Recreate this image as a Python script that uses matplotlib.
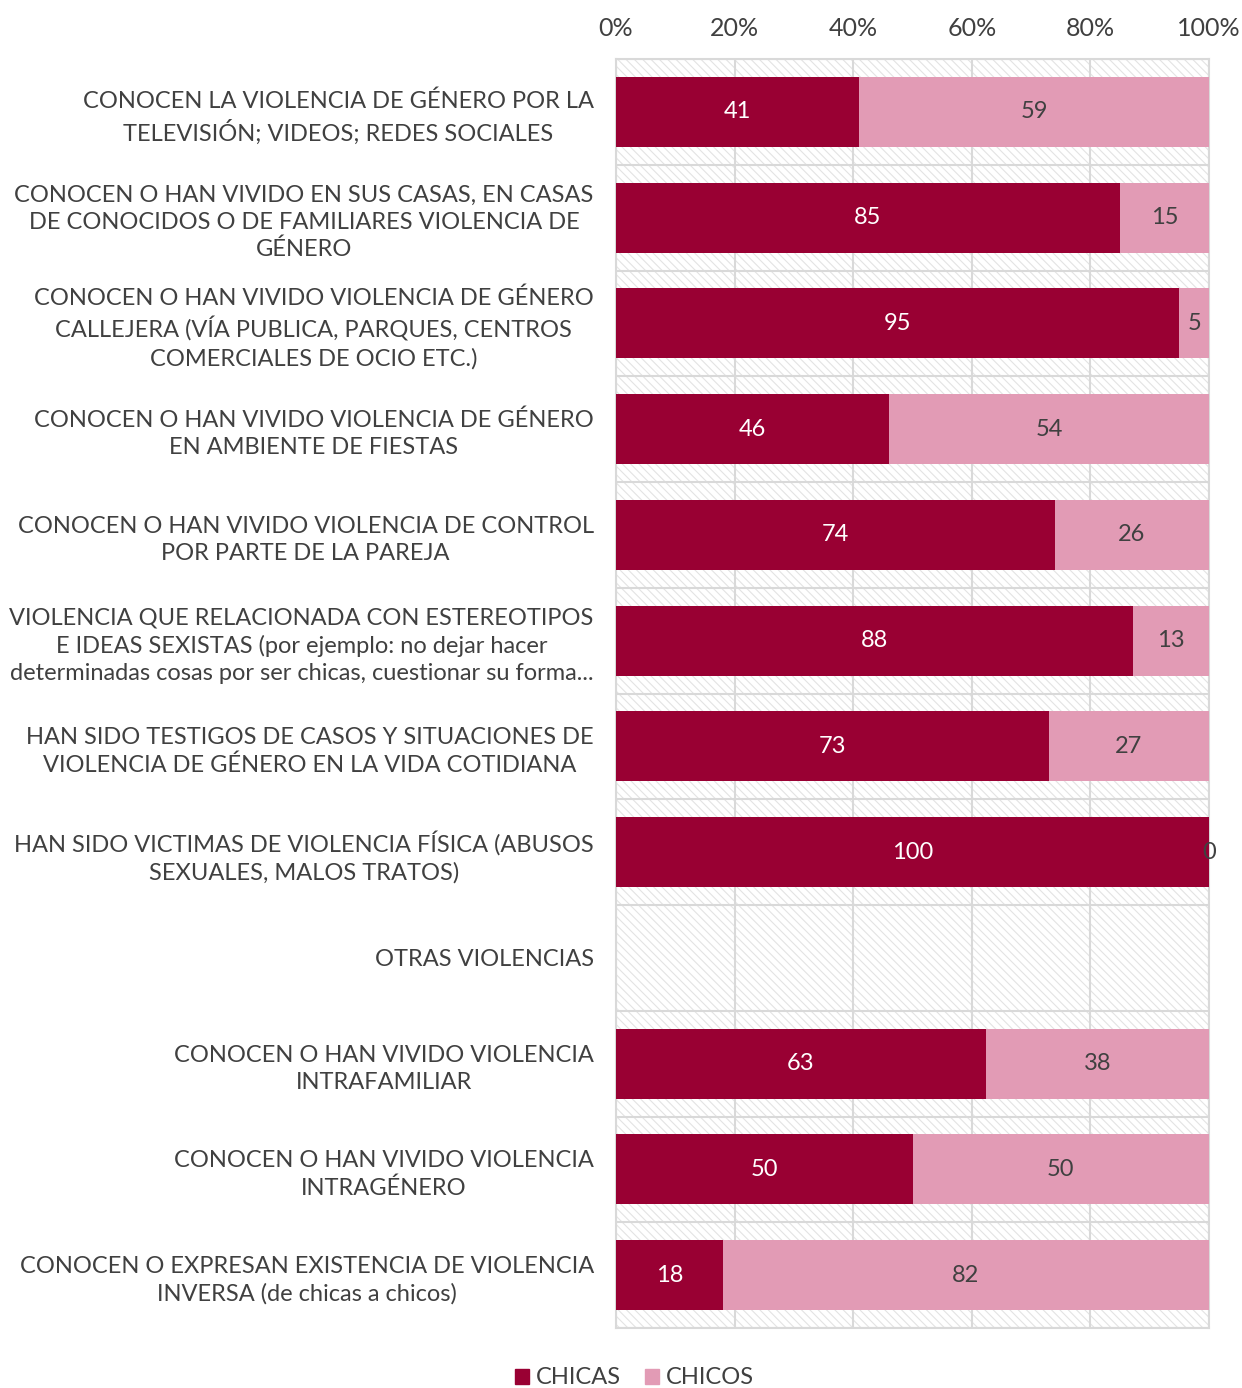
import numpy as np
import matplotlib.pyplot as plt
from matplotlib.patches import Rectangle

categories = [
    "CONOCEN LA VIOLENCIA DE GÉNERO POR LA\nTELEVISIÓN; VIDEOS; REDES SOCIALES",
    "CONOCEN O HAN VIVIDO EN SUS CASAS, EN CASAS\nDE CONOCIDOS O DE FAMILIARES VIOLENCIA DE\nGÉNERO",
    "CONOCEN O HAN VIVIDO VIOLENCIA DE GÉNERO\nCALLEJERA (VÍA PUBLICA, PARQUES, CENTROS\nCOMERCIALES DE OCIO ETC.)",
    "CONOCEN O HAN VIVIDO VIOLENCIA DE GÉNERO\nEN AMBIENTE DE FIESTAS",
    "CONOCEN O HAN VIVIDO VIOLENCIA DE CONTROL\nPOR PARTE DE LA PAREJA",
    "VIOLENCIA QUE RELACIONADA CON ESTEREOTIPOS\nE IDEAS SEXISTAS (por ejemplo: no dejar hacer\ndeterminadas cosas por ser chicas, cuestionar su forma...",
    "HAN SIDO TESTIGOS DE CASOS Y SITUACIONES DE\nVIOLENCIA DE GÉNERO EN LA VIDA COTIDIANA",
    "HAN SIDO VICTIMAS DE VIOLENCIA FÍSICA (ABUSOS\nSEXUALES, MALOS TRATOS)",
    "OTRAS VIOLENCIAS",
    "CONOCEN O HAN VIVIDO VIOLENCIA\nINTRAFAMILIAR",
    "CONOCEN O HAN VIVIDO VIOLENCIA\nINTRAGÉNERO",
    "CONOCEN O EXPRESAN EXISTENCIA DE VIOLENCIA\nINVERSA (de chicas a chicos)",
]
chicas = [41, 85, 95, 46, 74, 88, 73, 100, np.nan, 63, 50, 18]
chicos = [59, 15, 5, 54, 26, 13, 27, 0, np.nan, 38, 50, 82]

DARK = "#990033"
LIGHT = "#E29BB5"
TXT = "#404040"
GRID = "#d9d9d9"
FS = 17

plt.rcParams["font.family"] = ["Lato", "DejaVu Sans"]
plt.rcParams["hatch.linewidth"] = 0.8
plt.rcParams["hatch.color"] = "#e3e3e3"

fig = plt.figure(figsize=(12.42, 13.88), dpi=100)
ax = fig.add_axes([616 / 1242, 1 - 1328 / 1388, 593 / 1242, 1269 / 1388])

ax.add_patch(Rectangle((0, 0), 1, 1, transform=ax.transAxes, facecolor="white",
                       edgecolor="#e3e3e3", hatch="\\" * 4, linewidth=0, zorder=0))

n = len(categories)
y = np.arange(n)
a = np.array(chicas, dtype=float)
b = np.array(chicos, dtype=float)
tot = a + b
pa = a / tot * 100
pb = b / tot * 100

ax.barh(y, pa, height=0.66, color=DARK, zorder=3)
ax.barh(y, pb, left=pa, height=0.66, color=LIGHT, zorder=3)

for i in range(n):
    if np.isnan(a[i]):
        continue
    ax.text(pa[i] / 2, y[i], f"{int(a[i])}", ha="center", va="center",
            color="white", fontsize=FS, zorder=4)
    ax.text(pa[i] + pb[i] / 2, y[i], f"{int(b[i])}", ha="center", va="center",
            color=TXT, fontsize=FS, zorder=4)

ax.set_xlim(0, 100)
ax.set_ylim(n - 0.5, -0.5)
ax.set_xticks(np.arange(0, 101, 20))
ax.set_xticklabels([f"{v}%" for v in range(0, 101, 20)])
ax.xaxis.tick_top()
ax.set_yticks(y)
ax.set_yticklabels(categories, ha="right", multialignment="center", linespacing=1.35)
ax.set_yticks(np.arange(-0.5, n, 1), minor=True)
ax.tick_params(axis="both", which="both", length=0, labelsize=FS, colors=TXT)
ax.tick_params(axis="x", labelsize=18, pad=14)
ax.tick_params(axis="y", pad=16)
ax.grid(axis="x", which="major", color=GRID, linewidth=1.5, zorder=1)
ax.grid(axis="y", which="minor", color=GRID, linewidth=1.5, zorder=1)
ax.set_axisbelow(True)
for s in ax.spines.values():
    s.set_color(GRID)
    s.set_linewidth(1.5)

h1 = Rectangle((0, 0), 1, 1, color=DARK)
h2 = Rectangle((0, 0), 1, 1, color=LIGHT)
fig.legend([h1, h2], ["CHICAS", "CHICOS"], loc="center", bbox_to_anchor=(0.511, 1 - 1378 / 1388),
           ncol=2, frameon=False, fontsize=FS, handlelength=0.6, handleheight=0.6,
           handletextpad=0.3, columnspacing=1.0, labelcolor=TXT)

fig.savefig("out.png", dpi=100)
